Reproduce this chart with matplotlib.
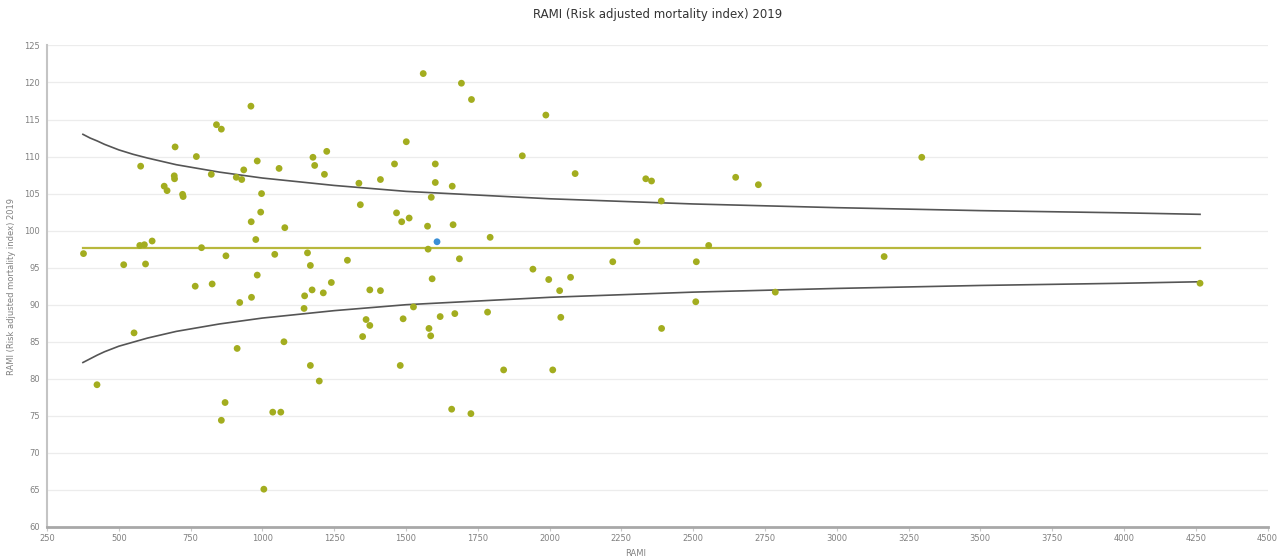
import matplotlib
matplotlib.use('Agg')
import matplotlib.pyplot as plt

# hospitals: cases (x) vs RAMI (y)
cases = [1560, 1693, 1728, 960, 1987, 840, 857, 1501, 696, 1224, 770, 1176, 3296,
         1905, 982, 576, 1182, 1058, 1460, 1602, 935, 822, 1216, 2089, 693, 694,
         909, 928, 1336, 1411, 1602, 2335, 2355, 2648, 2727, 1661, 658, 668, 722,
         724, 997, 1588, 2389, 1341, 994, 1467, 1511, 1485, 961, 1575, 1664, 1078,
         1793, 977, 616, 573, 589, 2304, 788, 2554, 1577, 377, 873, 1043, 1157,
         1296, 1686, 3165, 2220, 2511, 1167, 517, 593, 1942, 982, 2073, 1591, 1997,
         1240, 825, 766, 4265, 1173, 1374, 1411, 2035, 2786, 1212, 1147, 962, 921,
         2509, 1526, 1145, 1784, 1670, 1619, 2039, 1490, 1361, 1374, 1580, 2390,
         553, 1586, 1349, 1075, 912, 1167, 1480, 1840, 2011, 1198, 424, 870, 1659,
         1036, 1064, 1726, 857, 1005]
rami = [121.2, 119.9, 117.7, 116.8, 115.6, 114.3, 113.7, 112.0, 111.3, 110.7, 110.0,
        109.9, 109.9, 110.1, 109.4, 108.7, 108.8, 108.4, 109.0, 109.0, 108.2, 107.6,
        107.6, 107.7, 107.4, 107.0, 107.2, 106.9, 106.4, 106.9, 106.5, 107.0, 106.7,
        107.2, 106.2, 106.0, 106.0, 105.4, 104.9, 104.6, 105.0, 104.5, 104.0, 103.5,
        102.5, 102.4, 101.7, 101.2, 101.2, 100.6, 100.8, 100.4, 99.1, 98.8, 98.6,
        98.0, 98.1, 98.5, 97.7, 98.0, 97.5, 96.9, 96.6, 96.8, 97.0, 96.0, 96.2, 96.5,
        95.8, 95.8, 95.3, 95.4, 95.5, 94.8, 94.0, 93.7, 93.5, 93.4, 93.0, 92.8, 92.5,
        92.9, 92.0, 92.0, 91.9, 91.9, 91.7, 91.6, 91.2, 91.0, 90.3, 90.4, 89.7, 89.5,
        89.0, 88.8, 88.4, 88.3, 88.1, 88.0, 87.2, 86.8, 86.8, 86.2, 85.8, 85.7, 85.0,
        84.1, 81.8, 81.8, 81.2, 81.2, 79.7, 79.2, 76.8, 75.9, 75.5, 75.5, 75.3, 74.4,
        65.1]

own_x = [1608]
own_y = [98.5]

mean_rami = 97.7

# control limits
lim_x = [375, 400, 425, 450, 500, 550, 600, 700, 850, 1000, 1250, 1500, 1750, 2000,
         2500, 3000, 3500, 4000, 4265]
lim_hi = [113.0, 112.5, 112.1, 111.65, 110.9, 110.3, 109.8, 108.9, 107.9, 107.1,
          106.1, 105.3, 104.8, 104.3, 103.6, 103.1, 102.7, 102.4, 102.2]
lim_lo = [82.2, 82.7, 83.2, 83.65, 84.4, 84.95, 85.5, 86.4, 87.4, 88.2, 89.2, 90.0,
          90.5, 91.0, 91.7, 92.2, 92.6, 92.9, 93.1]

fig = plt.figure(figsize=(12.78, 5.58), dpi=100)
ax = fig.add_axes([0.0368, 0.0556, 0.955, 0.863])

ax.set_xlim(250, 4500)
ax.set_ylim(60, 125)
ax.set_xticks(range(250, 4501, 250))
ax.set_yticks(range(60, 126, 5))
ax.yaxis.grid(True, color='#ececec', linewidth=0.9)
ax.set_axisbelow(True)

ax.plot(lim_x, lim_hi, color='#555555', linewidth=1.2, zorder=2)
ax.plot(lim_x, lim_lo, color='#555555', linewidth=1.2, zorder=2)
ax.plot([lim_x[0], lim_x[-1]], [mean_rami, mean_rami], color='#b8b83c', linewidth=1.6, zorder=2)

ax.scatter(cases, rami, s=24, color='#a3ad1f', edgecolors='none', zorder=3)
ax.scatter(own_x, own_y, s=24, color='#3a8fd6', edgecolors='none', zorder=4)

for s in ['top', 'right']:
    ax.spines[s].set_visible(False)
ax.spines['left'].set_color('#c4c4c4')
ax.spines['left'].set_linewidth(1.5)
ax.spines['bottom'].set_color('#a8a8a8')
ax.spines['bottom'].set_linewidth(2)

ax.tick_params(axis='y', length=0, labelsize=6, labelcolor='#808080', pad=5)
ax.tick_params(axis='x', length=3, color='#c8c8c8', labelsize=6, labelcolor='#808080', pad=2)

ax.set_title('RAMI (Risk adjusted mortality index) 2019', fontsize=8.5, color='#333333', pad=20)
ax.set_ylabel('RAMI (Risk adjusted mortality index) 2019', fontsize=6, color='#808080', labelpad=6)
ax.set_xlabel('RAMI', fontsize=6, color='#808080', labelpad=1)
ax.xaxis.set_label_coords(0.482, -0.045)

fig.savefig('out.png', dpi=100)
